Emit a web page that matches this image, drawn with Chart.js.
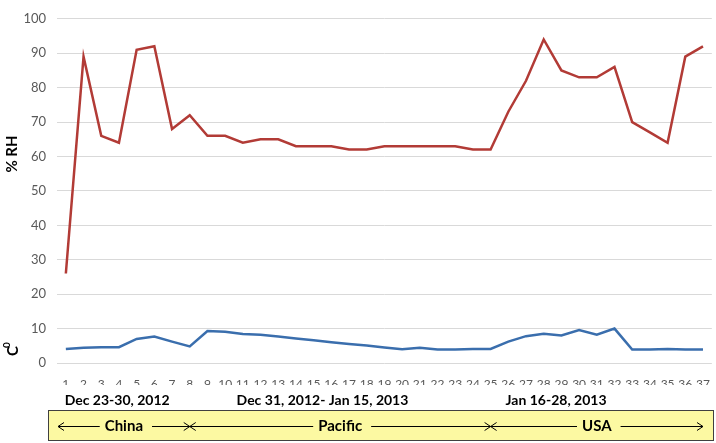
<!DOCTYPE html>
<html>
<head>
<meta charset="utf-8">
<script src="https://cdn.jsdelivr.net/npm/chart.js@4/dist/chart.umd.min.js"></script>
<style>
  html, body { margin: 0; padding: 0; background: #fff; }
  #wrap { width: 716px; height: 443px; position: relative; }
</style>
</head>
<body>
<div id="wrap"><canvas id="rhChart" width="716" height="443"></canvas></div>
<script>
var days = [];
for (var d = 1; d <= 37; d++) { days.push(String(d)); }

var rhValues = [26, 89, 66, 64, 91, 92, 68, 72, 66, 66, 64, 65, 65, 63, 63, 63, 62, 62, 63, 63,
                63, 63, 63, 62, 62, 73, 82, 94, 85, 83, 83, 86, 70, 67, 64, 89, 92];
var tempValues = [4.1, 4.4, 4.6, 4.6, 7.0, 7.7, 6.2, 4.8, 9.3, 9.1, 8.4, 8.2, 7.7, 7.1, 6.6, 6.0, 5.5, 5.1, 4.5, 4.0,
                  4.4, 3.9, 3.9, 4.1, 4.1, 6.2, 7.8, 8.5, 8.0, 9.6, 8.2, 10.0, 3.9, 3.9, 4.1, 3.9, 3.9];

// date ranges printed under the axis, anchored at a (fractional) day index
var periodLabels = ["Dec 23-30, 2012", "Dec 31, 2012- Jan 15, 2013", "Jan 16-28, 2013"];
var periodCenters = [2.9, 14.5, 27.7];

// route segments in the yellow box: start / end day index
var regionNames = ["China", "Pacific", "USA"];
var regionStart = [-0.5, 7, 24];
var regionEnd = [7, 24, 36];

var labelFont = "Lato, 'Open Sans', sans-serif";

var extrasPlugin = {
    id: 'extras',
    afterDraw: function (chart) {
        var ctx = chart.ctx;
        var x = chart.scales.x;
        ctx.save();

        // y axis titles
        ctx.fillStyle = "#000";
        ctx.font = "bold 15px " + labelFont;
        ctx.textAlign = "center";
        ctx.textBaseline = "middle";
        ctx.save();
        ctx.translate(12, 154);
        ctx.rotate(-Math.PI / 2);
        ctx.fillText("% RH", 0, 0);
        ctx.restore();
        ctx.save();
        ctx.translate(13, 351);
        ctx.rotate(-Math.PI / 2);
        ctx.fillText("C", 0, 0);
        ctx.font = "bold 10px " + labelFont;
        ctx.fillText("0", 6, -6);
        ctx.restore();

        // period labels
        ctx.font = "bold 14px " + labelFont;
        for (var i = 0; i < periodLabels.length; i++) {
            ctx.fillText(periodLabels[i], x.getPixelForValue(periodCenters[i]), 400);
        }

        // yellow route box
        var boxTop = 410, boxBottom = 441, boxLeft = 48, boxRight = 714;
        ctx.fillStyle = "#fcf9a2";
        ctx.fillRect(boxLeft, boxTop, boxRight - boxLeft, boxBottom - boxTop);
        ctx.strokeStyle = "#404040";
        ctx.lineWidth = 1;
        ctx.strokeRect(boxLeft + 0.5, boxTop + 0.5, boxRight - boxLeft - 1, boxBottom - boxTop - 1);

        var ay = 426.5;
        ctx.strokeStyle = "#000";
        ctx.fillStyle = "#000";
        ctx.font = "bold 15px " + labelFont;
        for (var r = 0; r < regionNames.length; r++) {
            var x0 = x.getPixelForValue(regionStart[r]) + (r === 0 ? 1 : 0);
            var x1 = x.getPixelForValue(regionEnd[r]);
            var mid = (x0 + x1) / 2;
            var tw = ctx.measureText(regionNames[r]).width;
            ctx.fillText(regionNames[r], mid, ay);
            ctx.beginPath();
            ctx.moveTo(x0, ay); ctx.lineTo(mid - tw / 2 - 5, ay);
            ctx.moveTo(mid + tw / 2 + 9, ay); ctx.lineTo(x1, ay);
            // arrow heads
            ctx.moveTo(x0 + 6, ay - 4); ctx.lineTo(x0, ay); ctx.lineTo(x0 + 6, ay + 4);
            ctx.moveTo(x1 - 6, ay - 4); ctx.lineTo(x1, ay); ctx.lineTo(x1 - 6, ay + 4);
            ctx.stroke();
        }
        ctx.restore();
    }
};

var ctx = document.getElementById("rhChart").getContext("2d");
new Chart(ctx, {
    type: 'line',
    data: {
        labels: days,
        datasets: [
            {
                label: "% RH",
                data: rhValues,
                borderColor: "#b23b36",
                borderWidth: 2.5,
                pointRadius: 0,
                tension: 0,
                fill: false
            },
            {
                label: "C0",
                data: tempValues,
                borderColor: "#3a6ead",
                borderWidth: 2.5,
                pointRadius: 0,
                tension: 0,
                fill: false
            }
        ]
    },
    options: {
        responsive: false,
        animation: false,
        layout: { padding: { top: 5, right: 4, bottom: 58, left: 0 } },
        plugins: {
            legend: { display: false },
            tooltip: { enabled: false }
        },
        scales: {
            x: {
                offset: true,
                grid: { display: false },
                border: { display: false },
                ticks: {
                    color: "#595959",
                    font: { family: labelFont, size: 12 },
                    maxRotation: 0,
                    autoSkip: false,
                    padding: 6
                },
                afterFit: function (scale) { scale.height = 22; }
            },
            y: {
                min: 0,
                max: 100,
                grid: { color: "#d9d9d9", lineWidth: 1, drawTicks: false },
                border: { display: false },
                ticks: {
                    stepSize: 10,
                    color: "#595959",
                    font: { family: labelFont, size: 13 },
                    padding: 11
                },
                afterFit: function (scale) { scale.width = 57; }
            }
        }
    },
    plugins: [extrasPlugin]
});
</script>
</body>
</html>
